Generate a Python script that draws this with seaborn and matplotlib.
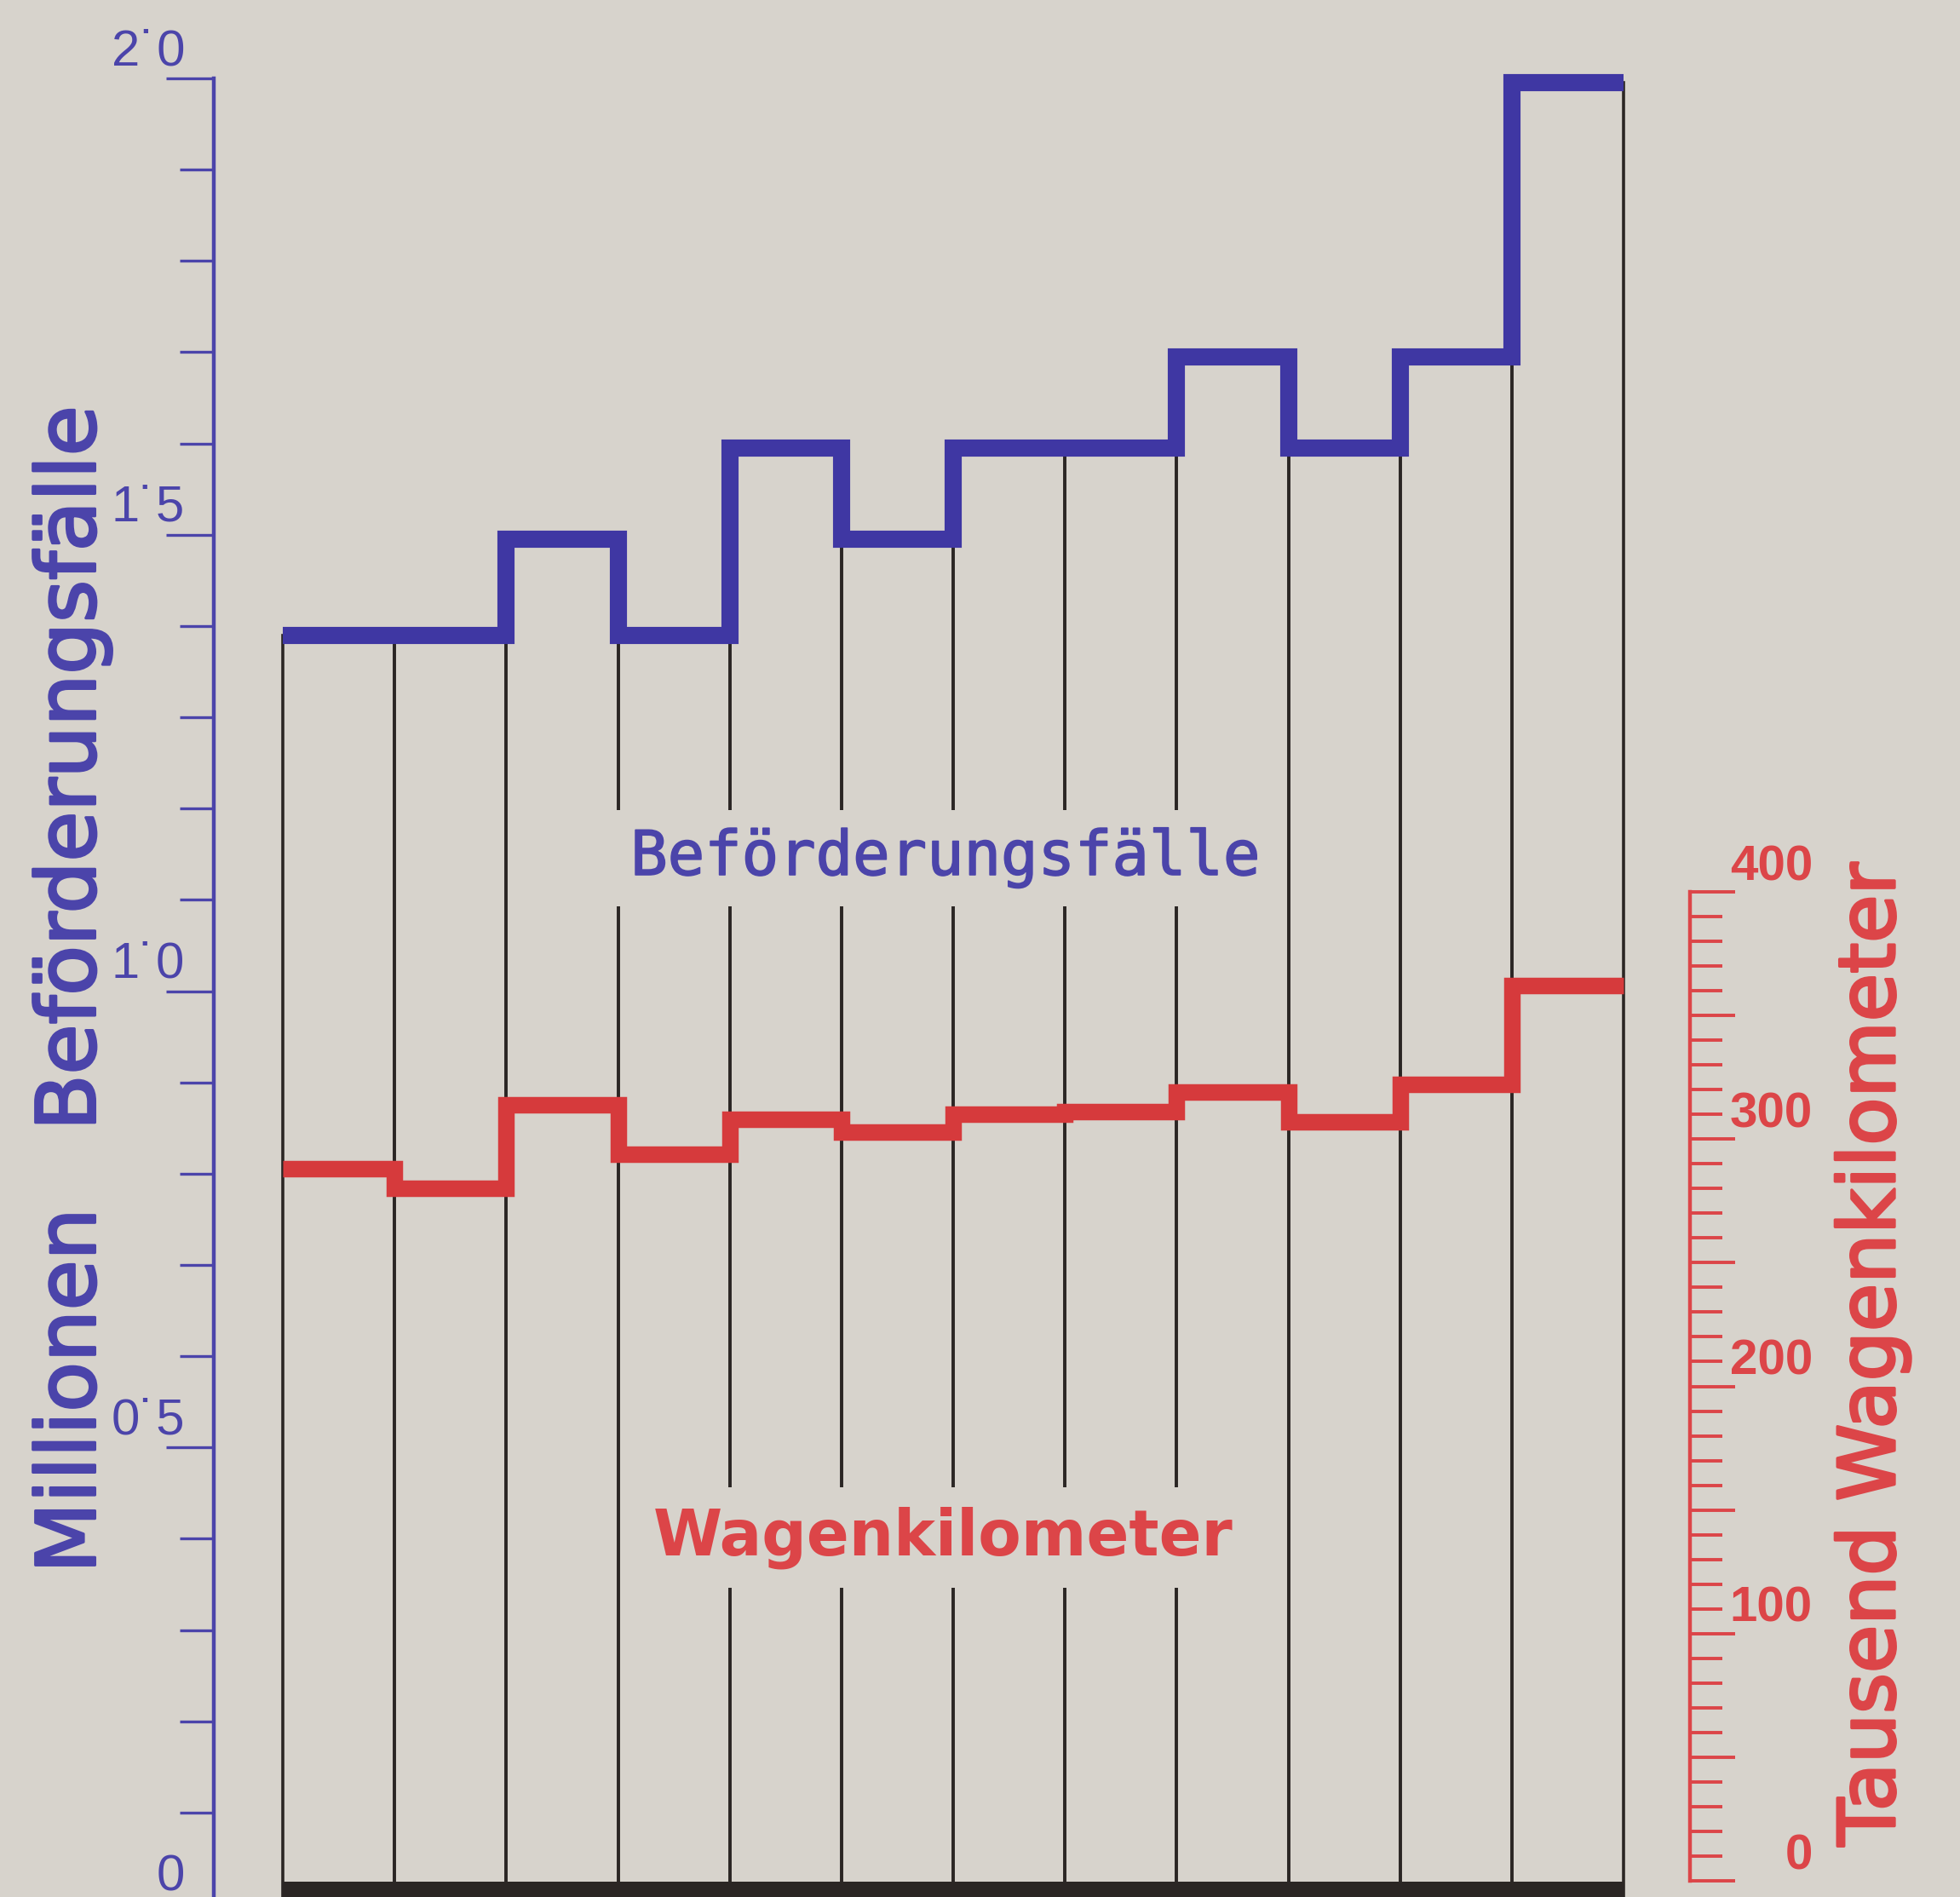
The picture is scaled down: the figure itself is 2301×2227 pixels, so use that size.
import numpy as np
import pandas as pd
import matplotlib
matplotlib.use("Agg")
import matplotlib.pyplot as plt
import matplotlib.transforms as mtransforms
import matplotlib.patheffects as pe
from matplotlib.ticker import FixedLocator
import seaborn as sns

# ---------------- data ----------------
periods = [f"P{i + 1}" for i in range(12)]
befoerderungsfaelle = [1.39, 1.39, 1.495, 1.39, 1.595, 1.495,
                       1.595, 1.595, 1.695, 1.595, 1.695, 1.995]   # Millionen
wagenkilometer = [288, 280, 314, 294, 308, 303,
                  310, 311, 319, 307, 322, 362]                     # Tausend
left_ticks = [0, 0.5, 1.0, 1.5, 2.0]
left_labels = ["0", "0˙5", "1˙0", "1˙5", "2˙0"]
left_minor = [0.1, 0.2, 0.3, 0.4, 0.6, 0.7, 0.8, 0.9,
              1.1, 1.2, 1.3, 1.4, 1.6, 1.7, 1.8, 1.9]
right_ticks = [0, 100, 200, 300, 400]
right_labels = ["0", "100", "200", "300", "400"]
right_major = [0, 50, 100, 150, 200, 250, 300, 350, 400]
right_minor = [v for v in range(0, 401, 10) if v % 50]

# ---------------- style ----------------
PAPER = "#d7d3cc"
BLACK = "#2b2624"
BLUE_LINE = "#3f37a3"
BLUE_TXT = "#4b44aa"
RED_LINE = "#d63a3c"
RED_TXT = "#dc4548"

W, H, DPI = 2301, 2227, 100
sns.set_theme(style="white")
plt.rcParams["font.family"] = ["DejaVu Sans"]

fig = plt.figure(figsize=(W / DPI, H / DPI), dpi=DPI, facecolor=PAPER)

# pixel layout of the plotting frame
L, R = 251, 1984          # left (blue) spine, right (red) spine
TOP, BOT = 92, 2235       # y of 2.0 and of 0 on the left scale
BAR_L, BAR_R = 332, 1906  # outer edges of the bar block
RED0, RED400 = 2208, 1047 # y of 0 and 400 on the red scale

ax = fig.add_axes([L / W, 1 - BOT / H, (R - L) / W, (BOT - TOP) / H])
ax.set_facecolor("none")

df = pd.DataFrame({"period": periods,
                   "bf": befoerderungsfaelle,
                   "wk": wagenkilometer})

# bars as thin black outlines
sns.barplot(data=df, x="period", y="bf", order=periods, ax=ax,
            width=1.0, fill=False, color=BLACK, linewidth=2.6,
            errorbar=None, zorder=2)

n = len(periods)
unit = (BAR_R - BAR_L) / n
ax.set_xlim(-0.5 - (BAR_L - L) / unit, n - 0.5 + (R - BAR_R) / unit)
ax.set_ylim(0, 2.0)
lppu = (BOT - TOP) / 2.0

edges = np.arange(n + 1) - 0.5
sns.lineplot(x=edges, y=befoerderungsfaelle + [befoerderungsfaelle[-1]],
             ax=ax, drawstyle="steps-post", color=BLUE_LINE, linewidth=14.5,
             solid_joinstyle="miter", solid_capstyle="butt",
             clip_on=False, zorder=4)

# thick base band along the zero line
ax.fill_between([-0.5, n - 0.5], -0.06, (BOT - 2209) / lppu,
                color=BLACK, linewidth=0, zorder=5, clip_on=False)

# left axis
for s in ["top", "right", "bottom"]:
    ax.spines[s].set_visible(False)
ax.spines["left"].set_color(BLUE_TXT)
ax.spines["left"].set_linewidth(3.2)
ax.spines["left"].set_bounds(0, 2.0)
ax.set_xticks([])
ax.set_xlabel("")
ax.set_ylabel("")
ax.yaxis.set_major_locator(FixedLocator(left_ticks))
ax.yaxis.set_minor_locator(FixedLocator(left_minor))
ax.tick_params(axis="y", which="major", length=40, width=2.4,
               color=BLUE_TXT, direction="out", labelleft=False, left=True)
ax.tick_params(axis="y", which="minor", length=29, width=2.4,
               color=BLUE_TXT, direction="out", left=True)

tl = mtransforms.blended_transform_factory(ax.transAxes, ax.transData)
tl = mtransforms.offset_copy(tl, fig=fig, x=0, y=16, units="dots")
for v, lab in zip(left_ticks, left_labels):
    ax.text((217 - L) / (R - L), v, lab, transform=tl, ha="right",
            va="baseline", fontsize=43, color=BLUE_TXT,
            family=["Liberation Sans", "DejaVu Sans"], clip_on=False)

# right axis (red scale)
ax2 = ax.twinx()
ax2.set_facecolor("none")
ppu = (RED0 - RED400) / 400.0
ax2.set_ylim((RED0 - BOT) / ppu, (RED0 - TOP) / ppu)
sns.lineplot(x=edges, y=wagenkilometer + [wagenkilometer[-1]],
             ax=ax2, drawstyle="steps-post", color=RED_LINE, linewidth=14,
             solid_joinstyle="miter", solid_capstyle="butt", zorder=4)
for s in ["top", "left", "bottom"]:
    ax2.spines[s].set_visible(False)
ax2.spines["right"].set_color(RED_TXT)
ax2.spines["right"].set_linewidth(3.2)
ax2.spines["right"].set_bounds(0, 400)
ax2.set_ylabel("")
ax2.yaxis.set_major_locator(FixedLocator(right_major))
ax2.yaxis.set_minor_locator(FixedLocator(right_minor))
ax2.tick_params(axis="y", which="major", length=38, width=2.8,
                color=RED_TXT, direction="out", labelright=False, right=True)
ax2.tick_params(axis="y", which="minor", length=27, width=2.8,
                color=RED_TXT, direction="out", right=True)

tr = mtransforms.blended_transform_factory(ax2.transAxes, ax2.transData)
tr = mtransforms.offset_copy(tr, fig=fig, x=0, y=14, units="dots")
for v, lab in zip(right_ticks, right_labels):
    ax2.text((2128 - L) / (R - L), v, lab, transform=tr, ha="right",
             va="baseline", fontsize=42, fontweight="bold", color=RED_TXT,
             family=["Liberation Sans", "DejaVu Sans"], clip_on=False)

# axis titles (DejaVu Sans, slightly thickened with a stroke)
fig.text(85 / W, 1 - 1161 / H, "Millionen   Beförderungsfälle",
         rotation=90, ha="center", va="center", fontsize=69, color=BLUE_TXT,
         path_effects=[pe.withStroke(linewidth=2.2, foreground=BLUE_TXT)])
fig.text(2198 / W, 1 - 1590 / H, "Tausend Wagenkilometer",
         rotation=90, ha="center", va="center", fontsize=66, color=RED_TXT,
         path_effects=[pe.withStroke(linewidth=2.4, foreground=RED_TXT)])

# series labels inside the chart
ax.text(-0.5 + (1110 - BAR_L) / unit, (BOT - 1027) / lppu, "Beförderungsfälle",
        ha="center", va="baseline", fontsize=52, color=BLUE_TXT,
        family=["DejaVu Sans Mono"], zorder=6,
        path_effects=[pe.withStroke(linewidth=1.2, foreground=BLUE_TXT)],
        bbox=dict(boxstyle="square,pad=0.3", facecolor=PAPER, edgecolor="none"))
ax.text(-0.5 + (1107 - BAR_L) / unit, (BOT - 1825) / lppu, "Wagenkilometer",
        ha="center", va="baseline", fontsize=53, fontweight="bold",
        color=RED_TXT, zorder=6,
        bbox=dict(boxstyle="square,pad=0.3", facecolor=PAPER, edgecolor="none"))

fig.savefig("out.png", dpi=DPI, facecolor=PAPER)
